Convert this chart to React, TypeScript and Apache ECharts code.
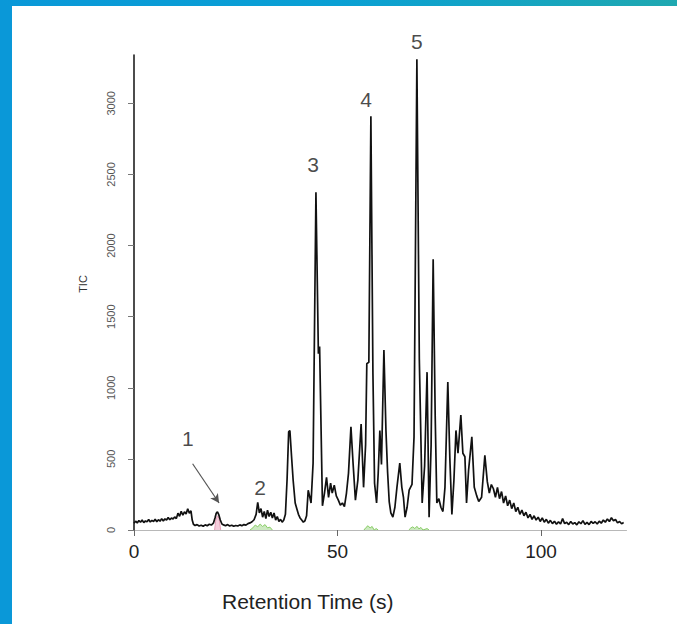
import React, { useEffect, useRef } from "react";
import * as echarts from "echarts";

// TIC chromatogram: [retention time (s), TIC]
const ticTrace: [number, number][] = [
  [0, 48], [0.4, 62], [0.8, 50], [1.2, 66], [1.6, 55], [2.0, 70], [2.4, 52], [2.8, 64], [3.2, 58], [3.6, 74],
  [4.0, 56], [4.4, 68], [4.8, 60], [5.2, 76], [5.6, 58], [6.0, 72], [6.4, 62], [6.8, 80], [7.2, 64], [7.6, 78],
  [8.0, 70], [8.4, 88], [8.8, 72], [9.2, 84], [9.6, 78], [10.0, 92], [10.4, 80], [10.8, 118], [11.2, 96], [11.6, 132],
  [12.0, 104], [12.4, 128], [12.8, 112], [13.2, 150], [13.6, 118], [14.0, 135], [14.3, 70], [14.6, 40], [15.0, 32],
  [15.5, 38], [16.0, 28], [16.5, 34], [17.0, 26], [17.5, 36], [18.0, 30], [18.5, 40], [19.0, 35], [19.5, 48],
  [19.9, 85], [20.2, 118], [20.5, 128], [20.8, 110], [21.2, 70], [21.6, 42], [22.0, 36], [22.5, 30], [23.0, 38],
  [23.5, 28], [24.0, 34], [24.5, 26], [25.0, 32], [25.5, 28], [26.0, 36], [26.5, 30], [27.0, 38], [27.5, 34],
  [28.0, 45], [28.5, 50], [29.0, 58], [29.5, 72], [30.0, 110], [30.4, 195], [30.8, 120], [31.2, 150], [31.6, 90],
  [32.0, 130], [32.4, 80], [32.8, 140], [33.2, 95], [33.6, 125], [34.0, 85], [34.4, 120], [34.8, 70], [35.2, 95],
  [35.6, 60], [36.0, 75], [36.4, 55], [36.8, 70], [37.2, 110], [37.6, 350], [38.0, 690], [38.3, 700], [38.7, 520],
  [39.1, 350], [39.6, 190], [40.0, 150], [40.4, 110], [40.8, 85], [41.2, 70], [41.6, 55], [42.0, 65], [42.4, 100],
  [42.8, 280], [43.2, 230], [43.5, 190], [44.0, 470], [44.7, 2375], [45.3, 1240], [45.6, 1290], [46.3, 170],
  [46.8, 260], [47.3, 370], [47.8, 230], [48.3, 330], [48.7, 260], [49.2, 315], [49.7, 240], [50.2, 210],
  [50.7, 175], [51.2, 190], [51.7, 165], [52.2, 260], [52.7, 400], [53.3, 725], [53.8, 480], [54.4, 210],
  [55.0, 350], [55.8, 745], [56.4, 300], [56.9, 600], [57.2, 1170], [57.7, 1180], [58.2, 2910], [58.7, 1100],
  [59.1, 330], [59.6, 190], [60.0, 400], [60.4, 700], [60.8, 460], [61.4, 1265], [61.9, 700], [62.3, 410],
  [62.7, 200], [63.1, 120], [63.6, 90], [64.1, 160], [64.6, 300], [65.3, 470], [65.8, 300], [66.2, 230],
  [66.6, 90], [67.1, 160], [67.6, 280], [68.3, 320], [68.8, 655], [69.5, 3310], [70.1, 1200], [70.8, 190],
  [71.4, 450], [72.0, 1110], [72.5, 90], [73.0, 600], [73.5, 1904], [74.0, 800], [74.4, 190], [74.9, 220],
  [75.4, 160], [75.9, 130], [76.4, 300], [77.1, 1040], [77.6, 500], [78.1, 110], [78.6, 350], [79.1, 700],
  [79.6, 540], [80.3, 808], [80.8, 540], [81.3, 515], [81.7, 190], [82.2, 420], [83.0, 655], [83.6, 300],
  [84.2, 240], [84.7, 200], [85.4, 230], [86.2, 525], [86.8, 340], [87.3, 260], [87.8, 320], [88.3, 290],
  [88.8, 230], [89.3, 300], [89.8, 220], [90.3, 270], [90.8, 190], [91.3, 240], [91.8, 170], [92.3, 210],
  [92.8, 150], [93.3, 190], [93.8, 130], [94.3, 160], [94.8, 110], [95.3, 140], [95.8, 100], [96.3, 125],
  [96.8, 85], [97.3, 110], [97.8, 75], [98.3, 100], [98.8, 70], [99.3, 90], [99.8, 60], [100.3, 85], [100.8, 55],
  [101.3, 75], [101.8, 48], [102.3, 68], [102.8, 45], [103.3, 62], [103.8, 40], [104.3, 58], [104.8, 42],
  [105.3, 80], [105.8, 45], [106.3, 55], [106.8, 38], [107.3, 60], [107.8, 42], [108.3, 52], [108.8, 36],
  [109.3, 58], [109.8, 44], [110.3, 66], [110.8, 40], [111.3, 54], [111.8, 38], [112.3, 60], [112.8, 46],
  [113.3, 58], [113.8, 42], [114.3, 62], [114.8, 48], [115.3, 70], [115.8, 55], [116.3, 78], [116.8, 60],
  [117.3, 86], [117.8, 65], [118.3, 74], [118.8, 50], [119.3, 60], [119.8, 44], [120.3, 52],
];

// Pink component under peak 1
const pinkTrace: [number, number][] = [
  [19.8, 0], [20.1, 70], [20.5, 100], [20.9, 80], [21.3, 0],
];

// Green components near baseline ("-" breaks the line)
const greenTrace: [number, number | string][] = [
  [28.5, 0], [29.2, 15], [29.8, 35], [30.4, 22], [31.0, 42], [31.6, 25], [32.2, 38], [32.8, 15], [33.4, 20], [34.0, 0],
  [34.1, "-"],
  [56.5, 0], [57.0, 18], [57.5, 30], [58.0, 14], [58.5, 25], [59.0, 0], [59.5, 10], [60.0, 0],
  [60.1, "-"],
  [67.5, 0], [68.0, 14], [68.5, 22], [69.0, 10], [69.5, 26], [70.0, 8], [70.5, 18], [71.0, 0], [72.0, 10], [72.5, 0],
];

// Peak annotations: label, time, TIC position
const peakLabelNames = ["1", "2", "3", "4", "5"];
const peakLabelTimes = [13.2, 31.0, 44.0, 57.0, 69.5];
const peakLabelTIC = [640, 300, 2567, 3024, 3432];

// Arrow from label 1 to peak 1
const arrowStart: [number, number] = [14.4, 466];
const arrowEnd: [number, number] = [20.9, 190];

const xTicks = [0, 50, 100];
const yTicks = [0, 500, 1000, 1500, 2000, 2500, 3000];

export default function App() {
  const ref = useRef<HTMLDivElement>(null);
  useEffect(() => {
    if (!ref.current) return;
    const chart = echarts.init(ref.current, undefined, { renderer: "svg" });
    const option: any = {
      animation: false,
      backgroundColor: "#ffffff",
      grid: { left: 134, right: 50.5, top: 55, bottom: 94, containLabel: false },
      xAxis: {
        type: "value",
        min: 0,
        max: 121,
        interval: 50,
        axisLine: { show: true, lineStyle: { color: "#b8b8b8", width: 1 } },
        axisTick: { show: true, length: 6, customValues: xTicks, lineStyle: { color: "#666", width: 1 } },
        splitLine: { show: false },
        axisLabel: {
          margin: 12,
          color: "#222",
          fontSize: 19,
          customValues: xTicks,
          formatter: (v: number) => String(v),
          fontFamily: "Liberation Sans, Arial, sans-serif",
        },
      },
      yAxis: {
        type: "value",
        min: 0,
        max: 3340,
        interval: 500,
        axisLine: { show: true, lineStyle: { color: "#111", width: 1.5 } },
        axisTick: { show: true, length: 6, customValues: yTicks, lineStyle: { color: "#777", width: 1 } },
        splitLine: { show: false },
        axisLabel: {
          rotate: 90,
          margin: 18,
          color: "#555",
          fontSize: 11,
          customValues: yTicks,
          formatter: (v: number) => String(v),
          fontFamily: "Liberation Sans, Arial, sans-serif",
        },
      },
      graphic: [
        { type: "rect", left: 0, top: 0, shape: { width: 12, height: 624 }, style: { fill: "#0a98d8" }, z: 100 },
        {
          type: "rect",
          left: 0,
          top: 0,
          shape: { width: 677, height: 6 },
          style: {
            fill: new echarts.graphic.LinearGradient(0, 0, 1, 0, [
              { offset: 0, color: "#0a98d8" },
              { offset: 0.5, color: "#0aa0d4" },
              { offset: 1, color: "#1fa8b0" },
            ]),
          },
          z: 100,
        },
        {
          type: "text",
          left: 222,
          top: 591,
          style: {
            text: "Retention Time (s)",
            fontSize: 21,
            fill: "#222",
            fontFamily: "Liberation Sans, Arial, sans-serif",
          },
        },
        {
          type: "text",
          x: 83,
          y: 284,
          rotation: Math.PI / 2,
          style: {
            text: "TIC",
            fontSize: 11,
            fill: "#333",
            align: "center",
            verticalAlign: "middle",
            fontFamily: "Liberation Sans, Arial, sans-serif",
          },
        },
      ],
      series: [
        {
          type: "line",
          data: greenTrace,
          showSymbol: false,
          connectNulls: false,
          lineStyle: { color: "#88cc66", width: 1 },
          areaStyle: { color: "#bfe3b0", opacity: 0.8 },
          z: 2,
        },
        {
          type: "line",
          data: pinkTrace,
          showSymbol: false,
          lineStyle: { color: "#e8a0b8", width: 1 },
          areaStyle: { color: "#f4c8d8", opacity: 0.9 },
          z: 2,
        },
        {
          type: "line",
          data: ticTrace,
          showSymbol: false,
          lineStyle: { color: "#111", width: 1.7 },
          z: 3,
          markLine: {
            silent: true,
            symbol: ["none", "arrow"],
            symbolSize: [7, 9],
            label: { show: false },
            lineStyle: { color: "#555", width: 1.2, type: "solid" },
            data: [[{ coord: arrowStart }, { coord: arrowEnd }]],
          },
        },
        {
          type: "scatter",
          clip: false,
          symbolSize: 0,
          data: peakLabelNames.map((n, i) => ({ name: n, value: [peakLabelTimes[i], peakLabelTIC[i]] })),
          label: {
            show: true,
            position: "inside",
            formatter: (p: any) => p.name,
            fontSize: 21,
            color: "#1a1a1a",
            fontFamily: "Liberation Sans, Arial, sans-serif",
          },
          z: 5,
        },
      ],
    };
    chart.setOption(option);
    return () => chart.dispose();
  }, []);
  return (
    <div
      ref={ref}
      style={{ position: "fixed", left: 0, top: 0, width: 677, height: 624, background: "#fff" }}
    />
  );
}
